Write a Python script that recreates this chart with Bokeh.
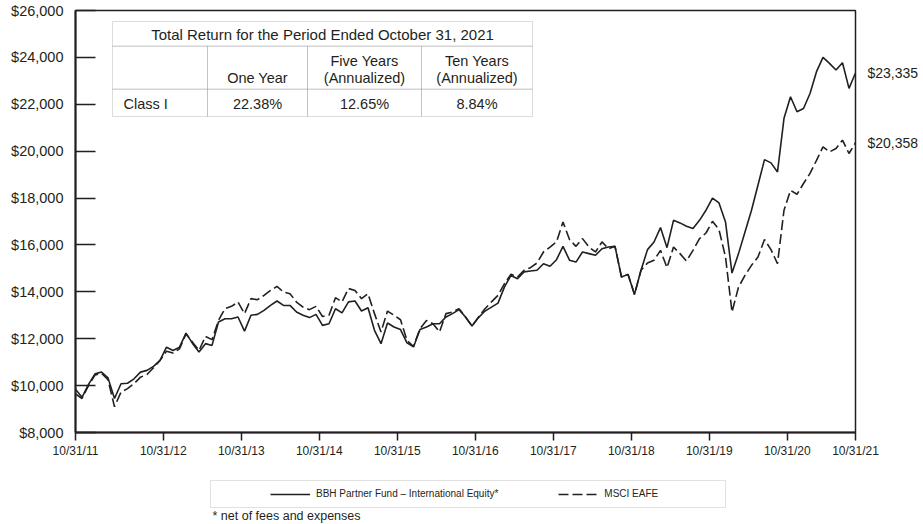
from bokeh.plotting import figure
from bokeh.layouts import column
from bokeh.models import (Range1d, FixedTicker, NumeralTickFormatter, Label,
                          BoxAnnotation, Legend, LegendItem, LinearAxis)
from bokeh.embed import file_html
from bokeh.resources import INLINE

# ---------------- data (month-end values, 10/31/11 .. 10/31/21) ----------------
months = list(range(121))
fund = [9850, 9500, 10050, 10500, 10580, 10330, 9450, 10080, 10100, 10290,
        10575, 10650, 10820, 11075, 11640, 11500, 11640, 12240, 11800, 11430,
        11790, 11715, 12710, 12855, 12855, 12925, 12325, 13000, 13040, 13210,
        13420, 13610, 13420, 13420, 13140,
        13000, 12900, 13040, 12570, 12640, 13280, 13100, 13570, 13610, 13180,
        13320, 12360, 11790, 12670, 12500, 12390, 11820, 11650, 12390, 12500,
        12640, 12640, 12930, 13070, 13240, 12930, 12540, 12900, 13180, 13350,
        13520, 14210, 14700, 14560, 14850, 14890, 14920, 15200, 15090, 15370,
        15940, 15350, 15270, 15700, 15630, 15560, 15840, 15910, 15940, 14630,
        14745, 13890, 14920, 15800, 16125, 16740, 15885, 17050, 16940, 16800,
        16700, 17050, 17480, 18000, 17790, 16980, 14800, 15630, 16550, 17480,
        18560, 19640, 19500, 19115, 21400, 22320, 21680, 21820, 22460, 23390,
        24000, 23745, 23460, 23770, 22680, 23335]
msci = [9650, 9450, 10000, 10450, 10530, 10250, 9100, 9720, 9870, 10080,
        10360, 10475, 10760, 11075, 11470, 11390, 11570, 12200, 11855, 11500,
        12100, 11960, 12780, 13280, 13380, 13565, 13070, 13710, 13665, 13850,
        14060, 14230, 13990, 13920, 13565,
        13350, 13240, 13380, 12950, 13000, 13750, 13570, 14140, 14060, 13710,
        13920, 13070, 12290, 13180, 13000, 12810, 11930, 11670, 12430, 12780,
        12640, 12290, 13070, 13140, 13280, 12930, 12540, 12930, 13280, 13570,
        13850, 14350, 14750, 14630, 14920, 15030, 15230, 15700, 15910, 16130,
        16980, 16230, 15940, 16270, 15910, 15700, 16130, 15840, 15940, 14630,
        14745, 13890, 14920, 15230, 15345, 15770, 15030, 15910, 15630, 15315,
        15770, 16270, 16510, 17010, 16650, 15490, 13140, 14200, 14700, 15130,
        15490, 16230, 15800, 15200, 17480, 18330, 18160, 18620, 19050, 19610,
        20180, 19970, 20110, 20470, 19900, 20358]

tick_months = [0, 13.5, 25.5, 37.5, 49.5, 61.5, 73.5, 85.5, 97.5, 109.5, 120]
tick_labels = ["10/31/11", "10/31/12", "10/31/13", "10/31/14", "10/31/15",
               "10/31/16", "10/31/17", "10/31/18", "10/31/19", "10/31/20",
               "10/31/21"]
y_ticks = [8000, 10000, 12000, 14000, 16000, 18000, 20000, 22000, 24000, 26000]

series_names = ["BBH Partner Fund \u2013 International Equity*", "MSCI EAFE"]
table_title = "Total Return for the Period Ended October 31, 2021"
col_heads = [["One Year"], ["Five Years", "(Annualized)"], ["Ten Years", "(Annualized)"]]
row_name = "Class I"
returns = ["22.38%", "12.65%", "8.84%"]
footnote = "* net of fees and expenses"

# ---------------- style ----------------
FONT = "Liberation Sans"
INK = "#231f20"
GRID = "#8a8a8a"
DASH = "10 4"

# page geometry (page origin == canvas origin)
FL, FT, FW, FH = 75, 10, 780, 422
FB = FT + FH
RB = 68
H1 = 462
H2 = 524 - H1

p = figure(frame_width=FW, frame_height=FH,
           x_range=Range1d(0, 120), y_range=Range1d(8000, 26000),
           output_backend="svg", toolbar_location=None,
           min_border_left=FL, min_border_right=RB,
           min_border_top=FT, min_border_bottom=H1 - FB)
p.background_fill_color = "white"
p.border_fill_color = "white"
p.outline_line_color = INK
p.outline_line_width = 1.5
p.xgrid.visible = False
p.ygrid.visible = False

r1 = p.line(months, fund, line_color=INK, line_width=1.6)
r2 = p.line(months, msci, line_color=INK, line_width=1.6, line_dash=DASH)

# axes
p.xaxis.ticker = FixedTicker(ticks=tick_months)
p.xaxis.major_label_overrides = {t: l for t, l in zip(tick_months, tick_labels)}
p.xaxis.minor_tick_line_color = None
p.xaxis.major_tick_in = 0
p.xaxis.major_tick_out = 8
p.xaxis.major_tick_line_width = 1.5
p.xaxis.major_tick_line_color = INK
p.xaxis.axis_line_width = 2
p.xaxis.axis_line_color = INK
p.xaxis.major_label_text_font = FONT
p.xaxis.major_label_text_font_size = "12px"
p.xaxis.major_label_text_color = INK
p.xaxis.major_label_standoff = 3

p.yaxis.ticker = FixedTicker(ticks=y_ticks)
p.yaxis.formatter = NumeralTickFormatter(format="$0,0")
p.yaxis.minor_tick_line_color = None
p.yaxis.major_tick_in = 20
p.yaxis.major_tick_out = 0
p.yaxis.major_tick_line_width = 1.5
p.yaxis.major_tick_line_color = INK
p.yaxis.axis_line_width = 2
p.yaxis.axis_line_color = INK
p.yaxis.major_label_text_font = FONT
p.yaxis.major_label_text_font_size = "14.5px"
p.yaxis.major_label_text_color = INK
p.yaxis.major_label_standoff = 12

# end-value labels via a right-hand axis
end_axis = LinearAxis(ticker=FixedTicker(ticks=[fund[-1], msci[-1]]),
                      formatter=NumeralTickFormatter(format="$0,0"),
                      axis_line_color=None, major_tick_line_color=None,
                      minor_tick_line_color=None,
                      major_tick_in=0, major_tick_out=0,
                      minor_tick_in=0, minor_tick_out=0,
                      major_label_standoff=12,
                      major_label_text_font=FONT,
                      major_label_text_font_size="14px",
                      major_label_text_color=INK)
p.add_layout(end_axis, "right")

def sx(x):
    return x - FL
def sy(y):
    return FB - y

def box(fig, l, t, r, b, color=GRID):
    fig.add_layout(BoxAnnotation(left=l, right=r, top=t, bottom=b,
                                 left_units="screen", right_units="screen",
                                 top_units="screen", bottom_units="screen",
                                 fill_alpha=0, line_color=color, line_width=1))

def label(fig, x, y, text, size="14.5px", align="center", baseline="middle"):
    fig.add_layout(Label(x=x, y=y, x_units="screen", y_units="screen",
                         text=text, text_font=FONT, text_font_size=size,
                         text_color=INK, text_align=align, text_baseline=baseline))

# ---------------- table ----------------
cols = [112, 207, 307, 421, 532]
rows = [21, 45.7, 88.7, 116]
box(p, sx(cols[0]), sy(rows[0]), sx(cols[-1]), sy(rows[1]))
for i in range(4):
    box(p, sx(cols[i]), sy(rows[1]), sx(cols[i + 1]), sy(rows[2]))
    box(p, sx(cols[i]), sy(rows[2]), sx(cols[i + 1]), sy(rows[3]))
label(p, sx((cols[0] + cols[-1]) / 2), sy(33.5), table_title, size="15px")
for i, head in enumerate(col_heads):
    cx = sx((cols[i + 1] + cols[i + 2]) / 2)
    if len(head) == 1:
        label(p, cx, sy(77.5), head[0])
    else:
        label(p, cx, sy(60.5), head[0])
        label(p, cx, sy(77.5), head[1])
label(p, sx(123), sy(103.5), row_name, align="left")
for i, val in enumerate(returns):
    label(p, sx((cols[i + 1] + cols[i + 2]) / 2), sy(103.5), val)

# ---------------- legend strip (second figure, frame aligned with p) ----------------
q = figure(width=FL + FW + RB, height=H2, x_range=Range1d(0, 1), y_range=Range1d(0, 1),
           x_axis_type=None, y_axis_type=None, output_backend="svg",
           toolbar_location=None, min_border=0)
q.outline_line_color = None
q.background_fill_color = "white"
q.border_fill_color = "white"
q.xgrid.visible = False
q.ygrid.visible = False
# same series, styled as in the chart; they fall outside this strip's ranges
d1 = q.line(months, fund, line_color=INK, line_width=1.6)
d2 = q.line(months, msci, line_color=INK, line_width=1.6, line_dash=DASH)

def qx(x):
    return x - FL
def qy(y):
    return 524 - y

box(q, qx(210), qy(480), qx(725), qy(507), color="#9a9a9a")
legend = Legend(items=[LegendItem(label=series_names[0], renderers=[d1]),
                       LegendItem(label=series_names[1], renderers=[d2])],
                orientation="horizontal", location=(qx(270), qy(503.5)),
                border_line_color=None, background_fill_alpha=0,
                padding=0, margin=0, spacing=60, glyph_width=40,
                glyph_height=20, label_height=20, label_standoff=6,
                label_text_font=FONT, label_text_font_size="10px",
                label_text_color=INK)
q.add_layout(legend)
label(q, qx(212), qy(522.5), footnote, size="12.5px", align="left", baseline="bottom")

layout = column(p, q, spacing=0)
open("out.html", "w").write(file_html(layout, INLINE))
